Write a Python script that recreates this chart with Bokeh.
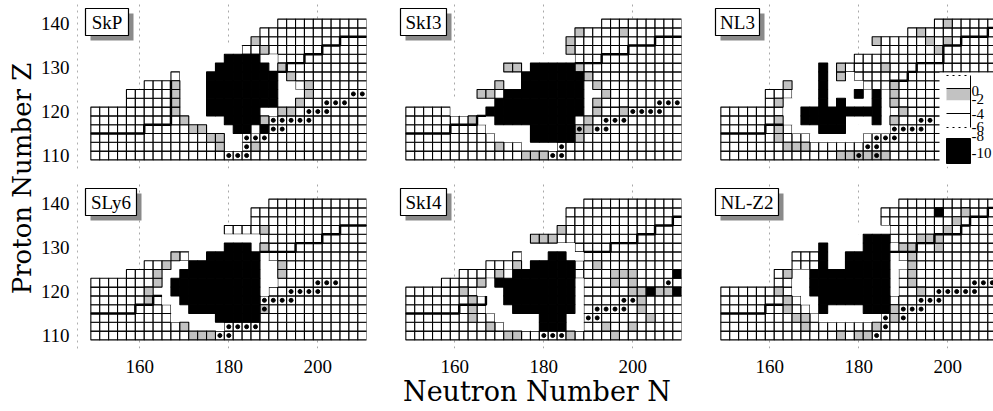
import math
from bokeh.plotting import figure
from bokeh.models import Range1d, FixedTicker
from bokeh.layouts import row, column
from bokeh.embed import file_html
from bokeh.resources import INLINE
from bokeh.core.properties import value

# ---------------- data ----------------
N_CELLS = list(range(150, 212, 2))          # neutron numbers of the grid columns
Z_MIN = 110
X_TICKS = [160, 180, 200]
Y_TICKS = [110, 120, 130, 140]
LEGEND_LABELS = ["0", "-2", "-4", "-6", "-8", "-10"]

NAMES = ["SkP", "SkI3", "NL3", "SLy6", "SkI4", "NL-Z2"]

# top proton number of the computed region, one per column
SKP_TOP = [120]*4 + [124]*2 + [126]*3 + [128]*3 + [130] + [132]*4 + [134] + [136] + [138]*2 + [140]*10
SKI3_TOP = [120]*5 + [122]*2 + [124]*3 + [126]*2 + [128]*2 + [130] + [132]*4 + [136] + [138]*2 + [140]*9
NL3_TOP = [120]*5 + [124]*2 + [126]*2 + [128]*4 + [130]*2 + [132]*3 + [136]*3 + [138]*3 + [140]*7
SLY6_TOP = [122]*4 + [124]*2 + [126]*3 + [128]*3 + [130]*3 + [134]*3 + [138]*2 + [140]*11
SKI4_TOP = [120]*4 + [122]*2 + [124]*3 + [126]*3 + [128]*2 + [132]*3 + [134] + [138]*2 + [140]*11
NLZ2_TOP = [120]*6 + [124]*2 + [128]*3 + [130]*3 + [132]*2 + [134]*2 + [138]*2 + [140]*11

# black cells (deepest shell correction): (Z, N from, N to)
SKP_BLACK = [(132,180,186),(130,178,188),(128,176,190),(126,176,190),(124,176,190),(122,176,190),
             (120,176,186),(118,180,186),(116,182,184),(116,188,188)]
SKI3_BLACK = [(130,178,186),(128,176,188),(126,176,188),(124,172,188),(122,170,188),(120,168,188),
              (118,170,186),(116,178,186),(114,178,186)]
NL3_BLACK = [(130,172,172),(128,172,172),(126,172,172),(124,172,172),(124,180,180),(124,184,184),
             (122,172,172),(122,176,176),(122,184,184),(120,168,184),(118,168,176),(118,184,184),(116,172,176)]
SLY6_BLACK = [(130,180,184),(128,176,186),(126,172,186),(124,170,186),(122,168,186),(120,168,186),
              (118,170,186),(116,172,186),(114,178,186)]
SKI4_BLACK = [(128,182,184),(126,178,186),(124,174,186),(122,170,186),(120,172,186),(118,172,186),
              (116,174,186),(114,180,184),(112,180,184),(124,210,210),(120,204,204),(120,210,210)]
NLZ2_BLACK = [(138,198,198),(132,182,186),(130,172,172),(130,182,186),(128,172,172),(128,178,186),
              (126,172,172),(126,178,186),(124,170,186),(122,170,186),(120,170,186),(118,172,186),
              (116,172,172),(116,182,186)]

# light (unlined) cells: (Z, N from, N to)
SKP_HALO = [(134,174,182),(132,172,178),(132,188,190),(130,170,176),(130,190,190),(128,170,174),(128,192,192),
            (126,170,174),(126,192,194),(124,170,174),(124,192,196),(122,170,174),(122,192,194),(120,170,174),
            (120,188,190),(118,172,178),(118,188,188),(116,174,180),(116,186,186),(114,178,182),(112,180,182)]
SKI3_HALO = [(132,176,186),(130,172,176),(128,170,174),(126,168,174),(124,164,170),(122,160,168),(120,160,166),
             (118,164,168),(116,168,176),(114,170,176),(112,176,184),(130,188,188),(128,190,190),(126,190,190),
             (124,190,192),(122,190,190),(120,190,190),(118,188,188)]
NL3_HALO = [(132,170,174),(130,170,170),(130,174,176),(128,168,170),(128,174,178),(126,164,170),(126,174,180),
            (124,166,170),(124,174,178),(124,182,182),(124,186,186),(122,164,170),(122,174,174),(122,178,182),
            (122,186,186),(120,164,166),(120,186,186),(118,164,166),(118,178,182),(118,186,186),(116,166,170),
            (116,178,186),(114,170,180)]
SLY6_HALO = [(132,178,186),(130,174,178),(130,186,186),(128,172,174),(126,168,170),(124,166,168),(122,164,166),
             (120,164,166),(118,166,168),(116,168,170),(114,168,176),(112,172,178),(128,188,188),(126,188,190),
             (124,188,190),(122,188,190),(120,188,188)]
SKI4_HALO = [(130,178,186),(128,176,180),(128,186,188),(126,174,176),(124,170,172),(122,166,168),(120,166,170),
             (118,168,170),(116,168,172),(114,170,178),(112,172,178),(122,188,188),(120,188,188),(118,188,188),
             (116,188,188),(114,186,188),(112,186,188)]
NLZ2_HALO = [(134,180,186),(132,172,180),(130,174,180),(128,174,176),(126,174,176),(124,166,168),(122,166,168),
             (120,166,168),(118,168,170),(116,170,170),(116,174,180),(114,172,184),(130,188,188),(128,188,188),
             (126,188,190),(124,188,188),(122,188,188),(120,188,188)]

# speckled (grey) cells: (N, Z)
SKP_GREY = [(186,136),(188,134),(192,130),(194,128),(168,126),(198,126),(168,124),(198,124),(168,122),(196,122),
            (168,120),(192,120),(194,120),(170,118),(188,118),(172,116),(174,116),(176,114),(178,114),(178,112),(186,112)]
SKI3_GREY = [(188,138),(198,138),(186,136),(186,134),(172,130),(174,130),(170,126),(166,124),(168,124),(164,118),
             (188,130),(190,128),(188,126),(192,126),(194,124),(192,122),(192,120),(190,118),(198,120),(190,116),
             (188,116),(188,114),(170,112),(176,110),(178,110),(180,110)]
NL3_GREY = [(200,140),(194,138),(196,136),(200,136),(198,134),(184,136),(176,130),(176,128),(186,130),(164,126),
            (162,122),(162,118),(162,116),(162,114),(188,126),(188,124),(188,122),(190,120),(188,118),(164,112),
            (166,112),(168,112),(176,110),(178,110),(180,110),(182,110),(184,110),(186,110)]
SLY6_GREY = [(188,134),(188,130),(192,126),(192,124),(168,128),(166,126),(164,124),(164,122),(162,120),(162,118),
             (170,112),(172,110),(174,110),(176,110),(188,116)]
SKI4_GREY = [(192,126),(196,124),(198,124),(200,124),(196,122),(200,122),(200,120),(202,120),(206,120),(208,120),
             (202,118),(202,116),(204,114),(194,112),(200,112),(196,110),(162,120),(164,118),(164,116),(164,114),
             (166,122),(170,124),(174,126),(178,132),(180,132),(182,132),(184,134),(168,112),(172,110),(174,110),(186,110)]
NLZ2_GREY = [(204,138),(202,136),(200,134),(194,132),(196,132),(198,132),(190,130),(192,130),(198,130),(192,128),
             (192,126),(192,124),(192,122),(194,120),(164,124),(162,120),(164,118),(164,116),(166,114),(168,114),
             (168,112),(176,110),(180,110),(182,110),(186,116),(188,116),(188,114),(184,112)]

# marked nuclei (dots): (N, Z)
SKP_DOTS = [(180,110),(182,110),(184,110),(184,112),(184,114),(186,114),(188,114),(190,116),(192,116),(190,118),
            (192,118),(194,118),(196,118),(198,118),(198,120),(200,120),(202,120),(202,122),(204,122),(206,122),
            (208,124),(210,124)]
SKI3_DOTS = [(182,110),(184,110),(184,112),(186,114),(188,116),(192,116),(194,116),(194,118),(196,118),(198,118),
             (200,120),(202,120),(204,120),(206,120),(206,122),(208,122),(210,122)]
NL3_DOTS = [(180,110),(184,110),(182,112),(184,112),(184,114),(186,114),(188,114),(188,116),(190,116),(192,116),
            (194,116),(194,118),(196,118)]
SLY6_DOTS = [(178,110),(180,110),(180,112),(182,112),(184,112),(186,112),(186,116),(188,116),(188,118),(190,118),
             (192,118),(194,118),(194,120),(196,120),(198,120),(200,120),(200,122),(202,122),(204,122)]
SKI4_DOTS = [(180,110),(182,110),(184,110),(190,114),(192,114),(192,116),(194,116),(196,116),(198,116),(198,118),
             (200,118),(208,122)]
NLZ2_DOTS = [(184,110),(186,112),(186,114),(190,114),(190,116),(192,116),(194,116),(194,118),(196,118),(198,118),
             (198,120),(200,120),(202,120),(204,120),(206,120),(206,122),(208,122),(210,122)]

# thick staircase lines: list of (N vertices, Z vertices)
SKP_LINES = [([149,161,161,167,167],[115,115,117,117,127]),
             ([187,193,193,197,197,201,201,205,205,211],[129,129,131,131,133,133,135,135,137,137])]
SKI3_LINES = [([149,159,159,165,165,167],[115,115,117,117,119,119]),
              ([187,193,193,199,199,205,205,211],[131,131,133,133,135,135,137,137])]
NL3_LINES = [([149,159,159,163],[115,115,117,117]),
             ([187,191,191,193,193,199,199,203,203,209,209,211],[127,127,129,129,131,131,135,135,137,137,139,139])]
SLY6_LINES = [([149,159,159,163,163,165],[115,115,117,117,119,119]),
              ([187,195,195,201,201,205,205,211],[129,129,131,131,133,133,135,135])]
SKI4_LINES = [([149,161,161,167,167],[115,115,117,117,119]),
              ([189,195,195,201,201,205,205,209,209,211],[129,129,131,131,133,133,135,135,137,137])]
NLZ2_LINES = [([149,159,159,163],[115,115,117,117]),
              ([187,193,193,197,197,203,203,205,205,209,209,211],[129,129,131,131,133,133,135,135,137,137,139,139])]

# ---------------- layout constants ----------------
PX_N, PX_Z = 4.45, 4.4
FW, FH = 289, 167
X0, Y0 = 146.0, 107.05
X1, Y1 = X0 + FW / PX_N, Y0 + FH / PX_Z
TF_W = 37
LEFT_B = 74 - TF_W
SERIF = "Liberation Serif"
TITLE_FONT = "DejaVu Serif"
GREY = "#c2c2c2"


def run_cells(runs):
    return {(n, z) for z, a, b in runs for n in range(a, b + 1, 2)}


def make_panel(name, top, black, halo, grey, dots, lines, label_w, col, rowi):
    show_y = col == 0
    show_x = rowi == 1
    p = figure(frame_width=FW, frame_height=FH, x_range=Range1d(X0, X1), y_range=Range1d(Y0, Y1),
               output_backend="svg", toolbar_location=None,
               min_border_left=LEFT_B if col == 0 else 0,
               min_border_right=26 if col < 2 else 0,
               min_border_top=1 if rowi == 0 else 7,
               min_border_bottom=6 if rowi == 0 else 63)
    p.outline_line_color = None
    p.background_fill_color = "white"
    p.ygrid.visible = False
    p.xgrid.ticker = FixedTicker(ticks=X_TICKS)
    p.xgrid.grid_line_color = "#a8a8a8"
    p.xgrid.grid_line_dash = "dotted"
    p.xgrid.grid_line_width = 1

    p.xaxis.ticker = FixedTicker(ticks=X_TICKS)
    p.yaxis.ticker = FixedTicker(ticks=Y_TICKS)
    for ax in (p.xaxis, p.yaxis):
        ax.major_tick_line_color = None
        ax.minor_tick_line_color = None
        ax.major_tick_out = 0
        ax.major_label_text_font = SERIF
        ax.major_label_text_font_size = "19px"
        ax.major_label_text_color = "black"
    p.xaxis.axis_line_color = None
    p.yaxis.axis_line_color = "#b0b0b0"
    p.yaxis.axis_line_dash = "dotted"
    p.xaxis.major_label_standoff = 11
    p.yaxis.major_label_standoff = 8
    p.xaxis.visible = show_x
    p.yaxis.visible = show_y
    if show_x and col == 1:
        p.xaxis.axis_label = "Neutron Number N"
        p.xaxis.axis_label_text_font = TITLE_FONT
        p.xaxis.axis_label_text_font_size = "27px"
        p.xaxis.axis_label_text_font_style = "normal"
        p.xaxis.axis_label_text_color = "black"
        p.xaxis.axis_label_standoff = 0

    domain = {(n, z) for n, t in zip(N_CELLS, top) for z in range(Z_MIN, t + 1, 2)}
    bset = run_cells(black)
    hset = run_cells(halo)
    gset = set(grey) - bset
    dset = set(dots)
    halo_only = hset - bset - gset - dset
    outlined = (domain | dset) - bset - gset - halo_only

    def rects(cells, **kw):
        cells = sorted(cells)
        if not cells:
            return
        p.rect(x=[c[0] for c in cells], y=[c[1] for c in cells], width=2, height=2, **kw)

    rects(outlined, fill_color="white", line_color="black", line_width=1.1)
    rects(halo_only, fill_color="white", line_color=None)
    rects(gset, fill_color=GREY, line_color="black", line_width=1.1)
    rects(bset, fill_color="black", line_color="black", line_width=1.1)

    for xs, ys in lines:
        p.line(x=xs, y=ys, line_color="black", line_width=2.4)

    dl = sorted(dset)
    p.scatter(x=[d[0] for d in dl], y=[d[1] for d in dl], size=4, color="black")

    # panel name box with shadow
    cx = X0 + (8 + label_w / 2) / PX_N
    cy = Y1 - (7 + 13.5) / PX_Z
    p.rect(x=[cx + 5 / PX_N], y=[cy - 5 / PX_Z], width=label_w, height=27, width_units="screen",
           height_units="screen", fill_color="#8a8a8a", line_color=None)
    p.rect(x=[cx], y=[cy], width=label_w, height=27, width_units="screen", height_units="screen",
           fill_color="white", line_color="black", line_width=1.2)
    p.text(x=[cx], y=[cy], text=[name], text_align="center", text_baseline="middle",
           text_font=value(SERIF), text_font_size="19px", text_color="black")
    return p


def px_n(xpix, col):
    return X0 + (xpix - (74 + 315 * col)) / PX_N


def px_z(ypix, rowi):
    return Y1 - (ypix - (1 + 180 * rowi)) / PX_Z


def add_legend(p):
    xl, xr = px_n(943, 2), px_n(967, 2)
    p.quad(left=[px_n(936, 2)], right=[X1], top=[px_z(72, 0)], bottom=[px_z(166, 0)],
           fill_color="white", line_color=None)
    edges = [75, 88, 100, 113, 127]
    fills = ["white", GREY, "white", "white"]
    p.quad(left=[xl]*4, right=[xr]*4, top=[px_z(e, 0) for e in edges[:-1]],
           bottom=[px_z(e, 0) for e in edges[1:]], fill_color=fills, line_color=None)
    p.quad(left=[xl], right=[xr], top=[px_z(138, 0)], bottom=[px_z(163, 0)], fill_color="black", line_color="black")
    p.segment(x0=[xl, xl], x1=[xr, xr], y0=[px_z(88, 0), px_z(113, 0)], y1=[px_z(88, 0), px_z(113, 0)],
              line_color="black", line_width=1)
    p.segment(x0=[xl, xl], x1=[xr, xr], y0=[px_z(75, 0), px_z(127, 0)], y1=[px_z(75, 0), px_z(127, 0)],
              line_color="black", line_width=1, line_dash="dotted")
    p.segment(x0=[xr], x1=[xr], y0=[px_z(75, 0)], y1=[px_z(127, 0)], line_color="black", line_width=1)
    ys = [90, 98, 113, 126, 135, 152]
    p.text(x=[px_n(968, 2)]*6, y=[px_z(v, 0) for v in ys], text=LEGEND_LABELS, text_align="left",
           text_baseline="middle", text_font=value(SERIF), text_font_size="15px", text_color="black")


specs = [
    ("SkP", SKP_TOP, SKP_BLACK, SKP_HALO, SKP_GREY, SKP_DOTS, SKP_LINES, 43),
    ("SkI3", SKI3_TOP, SKI3_BLACK, SKI3_HALO, SKI3_GREY, SKI3_DOTS, SKI3_LINES, 46),
    ("NL3", NL3_TOP, NL3_BLACK, NL3_HALO, NL3_GREY, NL3_DOTS, NL3_LINES, 44),
    ("SLy6", SLY6_TOP, SLY6_BLACK, SLY6_HALO, SLY6_GREY, SLY6_DOTS, SLY6_LINES, 51),
    ("SkI4", SKI4_TOP, SKI4_BLACK, SKI4_HALO, SKI4_GREY, SKI4_DOTS, SKI4_LINES, 46),
    ("NL-Z2", NLZ2_TOP, NLZ2_BLACK, NLZ2_HALO, NLZ2_GREY, NLZ2_DOTS, NLZ2_LINES, 63),
]

panels = []
for i, s in enumerate(specs):
    panels.append(make_panel(*s, col=i % 3, rowi=i // 3))
add_legend(panels[2])

tf = figure(frame_width=TF_W, frame_height=411, x_range=Range1d(0, TF_W), y_range=Range1d(0, 411),
            output_backend="svg", toolbar_location=None,
            min_border_left=0, min_border_right=0, min_border_top=0, min_border_bottom=0)
tf.axis.visible = False
tf.grid.visible = False
tf.outline_line_color = None
tf.text(x=[21], y=[411 - 178], text=["Proton Number Z"], angle=math.pi / 2, text_align="center",
        text_baseline="middle", text_font=value(TITLE_FONT), text_font_size="26px", text_color="black")

layout = row(tf, column(row(*panels[:3]), row(*panels[3:])))
open("out.html", "w").write(file_html(layout, INLINE))
